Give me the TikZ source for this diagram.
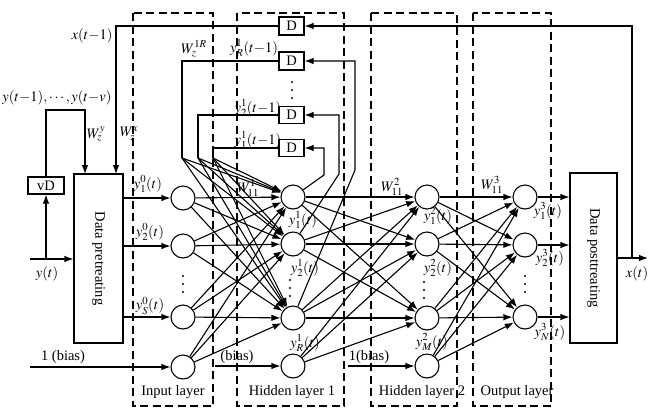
\documentclass[tikz,border=0pt]{standalone}
\usepackage{mathptmx}
\usepackage{fontspec}
\setmainfont{Liberation Serif}
\usetikzlibrary{arrows.meta}
\begin{document}
\begin{tikzpicture}[x=1pt,y=-1pt,
  every node/.style={font=\fontsize{14.5}{16}\selectfont},
  neuron/.style={draw,circle,minimum size=24pt,inner sep=0pt,line width=1.1pt},
  boxn/.style={draw,inner sep=0pt,line width=1.1pt},
  conn/.style={line width=1.1pt},
  arr/.style={line width=1.1pt,-{Latex[length=9pt,width=6.5pt]}},
  dbox/.style={line width=1.2pt,dash pattern=on 8pt off 4.5pt},
  lbl/.style={inner sep=0pt}]
\useasboundingbox (0,0) rectangle (655,408);

% layer boxes
\draw[dbox] (133,13) rectangle (213,406);
\draw[dbox] (237,13) rectangle (344,406);
\draw[dbox] (371,13) rectangle (457,406);
\draw[dbox] (473,13) rectangle (551,406);

% neurons
\node[neuron] (i1) at (183,198) {};
\node[neuron] (i2) at (183,246) {};
\node[neuron] (i3) at (183,317) {};
\node[neuron] (i4) at (183,367) {};
\node[neuron] (h1) at (293,197) {};
\node[neuron] (h2) at (293,244) {};
\node[neuron] (h3) at (293,318) {};
\node[neuron] (h4) at (293,366) {};
\node[neuron] (g1) at (427,197) {};
\node[neuron] (g2) at (427,244) {};
\node[neuron] (g3) at (427,318) {};
\node[neuron] (g4) at (427,366) {};
\node[neuron] (o1) at (525,197) {};
\node[neuron] (o2) at (525,245) {};
\node[neuron] (o3) at (525,317) {};

% boxes
\node[boxn,minimum width=49pt,minimum height=169pt] (pre) at (98.5,258.5) {};
\node[rotate=-90] (pretxt) at (pre.center) {Data pretreating};
\node[boxn,minimum width=47pt,minimum height=170pt] (post) at (593.5,258) {};
\node[rotate=-90] (posttxt) at (post.center) {Data posttreating};
\node[boxn,minimum width=36pt,minimum height=17pt] (vd) at (46,185.5) {vD};
\node[boxn,minimum width=25pt,minimum height=18pt] (d1) at (291.5,26) {D};
\node[boxn,minimum width=25pt,minimum height=18pt] (d2) at (291.5,61) {D};
\node[boxn,minimum width=25pt,minimum height=17pt] (d3) at (291.5,115) {D};
\node[boxn,minimum width=25pt,minimum height=17pt] (d4) at (291.5,148) {D};

% coordinates
\coordinate (yin) at (30,259);
\coordinate (yj) at (46,259);
\coordinate (yk) at (85,110);
\coordinate (yp) at (85,174);
\coordinate (xp) at (116,174);
\coordinate (xout) at (648,258);
\coordinate (fb) at (632,258);
\coordinate (c1) at (182,158);
\coordinate (c2) at (198,158);
\coordinate (c3) at (213,158);
\coordinate (k1) at (324,175);
\coordinate (k2) at (339,174);
\coordinate (k3) at (355,170);
\coordinate (b0) at (30,367);
\coordinate (b1) at (215,366);
\coordinate (b2) at (348,366);

% input side
\draw[arr] (yin) -- (pre.west |- yin);
\draw[arr] (yj) -- (vd.south);
\draw[arr] (vd.north) |- (yk) -- (yp);
\draw[arr] (d1.west) -| (xp);
\draw[arr] (post.east |- xout) -- (xout);
\draw[arr] (fb) |- (d1.east);

\draw[arr] (pre.east |- i1) -- (i1);
\draw[arr] (pre.east |- i2) -- (i2);
\draw[arr] (pre.east |- i3) -- (i3);
\draw[arr] (b0) -- (i4);
\draw[arr] (b1) -- (h4);
\draw[arr] (b2) -- (g4);

% context
\draw[conn] (d2.west) -| (c1);
\draw[conn] (d3.west) -| (c2);
\draw[conn] (d4.west) -| (c3);
\foreach \c in {c1,c2,c3}{\foreach \h in {h1,h2,h3}{\draw[arr] (\c) -- (\h);}}
\draw[arr] (h1) -- (k1) |- (d4.east);
\draw[arr] (h2) -- (k2) |- (d3.east);
\draw[arr] (h3) -- (k3) |- (d2.east);

% layer connections
\foreach \a in {i1,i2,i3,i4}{\foreach \b in {h1,h2,h3}{\draw[arr] (\a) -- (\b);}}
\foreach \a in {h1,h2,h3,h4}{\foreach \b in {g1,g2,g3}{\draw[arr] (\a) -- (\b);}}
\foreach \a in {g1,g2,g3,g4}{\foreach \b in {o1,o2,o3}{\draw[arr] (\a) -- (\b);}}
\foreach \o in {o1,o2,o3}{\draw[arr] (\o) -- (post.west |- \o);}

% vertical ellipsis dots
\foreach \x/\y in {183/276,183/284,183/292, 290/280,290/288,290/296, 424/282,424/290,424/298, 525/276,525/284,525/292, 292/82,292/90,292/98}{
  \fill (\x,\y) circle (1.1pt);}

% labels
\node[lbl] (lx1) at (92,36) {$x(t{-}1)$};
\node[lbl] (lyv) at (57,98) {$y(t{-}1),\cdots,y(t{-}v)$};
\node[lbl] (lwy) at (96,134) {$W_z^y$};
\node[lbl] (lwx) at (129,134) {$W_z^x$};
\node[lbl] (lyt) at (47,274) {$y(t)$};
\node[lbl] (lxt) at (637,274) {$x(t)$};
\node[lbl] (lb0) at (63,357) {1 (bias)};
\node[lbl] (lb1) at (237,357) {(bias)};
\node[lbl] (lb2) at (369,357) {1(bias)};
\node[lbl] (lw1r) at (194,49) {$W_z^{1R}$};
\node[lbl] (lyr1) at (254,48) {$y_R^1(t{-}1)$};
\node[lbl] (ly21) at (258,108) {$y_2^1(t{-}1)$};
\node[lbl] (ly11) at (258,140) {$y_1^1(t{-}1)$};

\node[lbl] (l01) at (148,184) {$y_1^0(t)$};
\node[lbl] (l02) at (150,232) {$y_2^0(t)$};
\node[lbl] (l0s) at (150,306) {$y_S^0(t)$};
\node[lbl] (lw11) at (248,188) {$W_{11}^1$};
\node[lbl] (l11) at (303,220) {$y_1^1(t)$};
\node[lbl] (l12) at (305,268) {$y_2^1(t)$};
\node[lbl] (l1r) at (305,343) {$y_R^1(t)$};
\node[lbl] (lw12) at (392,187) {$W_{11}^2$};
\node[lbl] (l21) at (438,216) {$y_1^2(t)$};
\node[lbl] (l22) at (438,268) {$y_2^2(t)$};
\node[lbl] (l2m) at (432,342) {$y_M^2(t)$};
\node[lbl] (lw13) at (492,185) {$W_{11}^3$};
\node[lbl] (l31) at (548,211) {$y_1^3(t)$};
\node[lbl] (l32) at (550,258) {$y_2^3(t)$};
\node[lbl] (l3n) at (550,332) {$y_N^3(t)$};

\node[lbl] (lin) at (173,392) {Input layer};
\node[lbl] (lh1) at (292,392) {Hidden layer 1};
\node[lbl] (lh2) at (422,392) {Hidden layer 2};
\node[lbl] (lout) at (517,392) {Output layer};
\end{tikzpicture}
\end{document}
